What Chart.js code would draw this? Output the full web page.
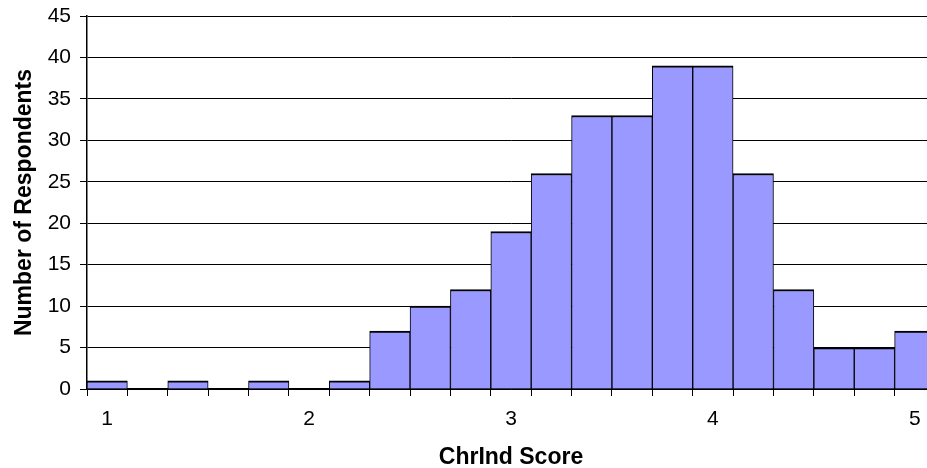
<!DOCTYPE html>
<html>
<head>
<meta charset="utf-8">
<script src="https://cdn.jsdelivr.net/npm/chart.js@4/dist/chart.umd.min.js"></script>
<style>
  html, body { margin: 0; padding: 0; background: #fff; overflow: hidden; width: 927px; height: 468px; }
  #wrap { width: 935px; height: 471px; position: relative; }
</style>
</head>
<body>
<div id="wrap"><canvas id="chart"></canvas></div>
<script>
// Histogram bins (bin centres) and respondent counts
const binCentres = ['1.0','1.2','1.4','1.6','1.8','2.0','2.2','2.4','2.6','2.8','3.0',
                    '3.2','3.4','3.6','3.8','4.0','4.2','4.4','4.6','4.8','5.0'];
const respondents = [1, 0, 1, 0, 1, 0, 1, 7, 10, 12, 19, 26, 33, 33, 39, 39, 26, 12, 5, 5, 7];
const xTickLabels = { '1.0': '1', '2.0': '2', '3.0': '3', '4.0': '4', '5.0': '5' };
const yTicks = { min: 0, max: 45, step: 5 };

const FONT = "'Liberation Sans', Arial, sans-serif";

new Chart(document.getElementById('chart'), {
  type: 'bar',
  data: {
    labels: binCentres,
    datasets: [{
      data: respondents,
      backgroundColor: '#9999FF',
      borderColor: '#000000',
      borderWidth: { top: 2, left: 1, right: 1, bottom: 0 },
      borderSkipped: false,
      barPercentage: 1,
      categoryPercentage: 1
    }]
  },
  options: {
    responsive: true,
    maintainAspectRatio: false,
    animation: false,
    layout: { padding: { top: 0, right: 0, left: 0, bottom: 0 } },
    plugins: { legend: { display: false }, tooltip: { enabled: false } },
    scales: {
      x: {
        offset: true,
        grid: { display: true, drawOnChartArea: false, drawTicks: true, tickLength: 7, color: '#000', offset: true },
        border: { display: true, color: '#000', width: 1.5 },
        ticks: {
          autoSkip: false, maxRotation: 0, color: '#000',
          font: { family: FONT, size: 21 }, padding: 11,
          callback: function (v) { return xTickLabels[binCentres[v]] || ''; }
        },
        title: { display: true, text: 'ChrInd Score', color: '#000',
                 font: { family: FONT, size: 23, weight: 'bold' }, padding: { top: 11, bottom: 0 } },
        afterFit: function (scale) { scale.height = 82; }
      },
      y: {
        min: yTicks.min, max: yTicks.max,
        grid: { color: '#000', lineWidth: 1, drawTicks: true, tickLength: 7 },
        border: { display: true, color: '#000', width: 1.5 },
        ticks: { stepSize: yTicks.step, color: '#000', font: { family: FONT, size: 21 }, padding: 9 },
        title: { display: true, text: 'Number of Respondents', color: '#000',
                 font: { family: FONT, size: 23, weight: 'bold' }, padding: { top: 11, bottom: 0 } },
        afterFit: function (scale) {
          scale.width = 87;
          scale.paddingTop = 16;
          scale.paddingBottom = 0;
        }
      }
    }
  }
});
</script>
</body>
</html>
